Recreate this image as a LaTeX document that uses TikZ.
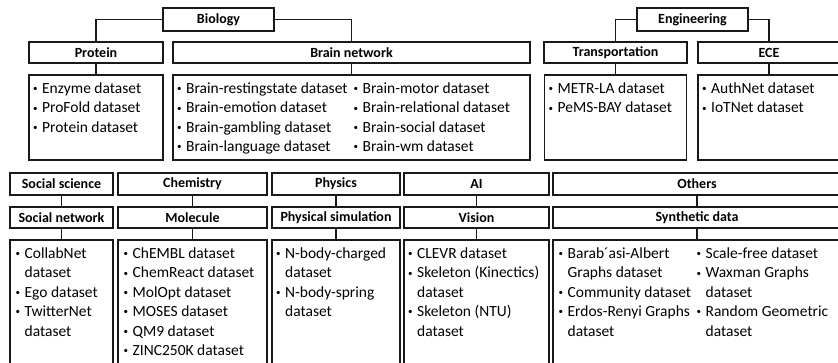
\documentclass[tikz,border=0pt]{standalone}
\usepackage{fontspec}
\setmainfont{Carlito}
\newcommand{\bul}{\makebox[10pt][l]{\hspace{1pt}\raisebox{1.8pt}{\fontsize{9}{9}\selectfont•}}}
\newcommand{\cont}{\hspace*{10pt}}

\begin{document}
\begin{tikzpicture}[x=1pt, y=-1pt,
    cat/.style={draw=black!90, line width=1.1pt, inner sep=0pt, font=\bfseries\fontsize{14}{16}\selectfont},
    body/.style={draw=black!90, line width=1.1pt, inner sep=0pt},
    lst/.style={anchor=north west, align=left, inner sep=0pt, font=\fontsize{15.5}{19.4}\selectfont},
    link/.style={draw=black!90, line width=1.1pt}]
    \useasboundingbox (0,0) rectangle (838,362);
    \clip (0,0) rectangle (838,362);

    \node[cat, minimum width=111, minimum height=23] (bio) at (218.5,19.5) {Biology};
    \node[cat, minimum width=111, minimum height=23] (eng) at (692.5,19.5) {Engineering};

    \node[cat, minimum width=134, minimum height=21] (prot) at (96,52.5) {Protein};
    \node[cat, minimum width=357, minimum height=21] (brain) at (351.5,52.5) {Brain network};
    \node[cat, minimum width=143, minimum height=21] (trans) at (615.5,52.5) {Transportation};
    \node[cat, minimum width=142, minimum height=21] (ece) at (769,52.5) {ECE};

    \node[body, minimum width=134, minimum height=85] (protC) at (96,117.5) {};
    \node[body, minimum width=357, minimum height=85] (brainC) at (351.5,117.5) {};
    \node[body, minimum width=142, minimum height=85] (transC) at (615.5,117.5) {};
    \node[body, minimum width=142, minimum height=85] (eceC) at (769,117.5) {};

    \draw[link] (bio.west) -| (prot.north);
    \draw[link] (bio.east) -| (brain.north);
    \draw[link] (eng.west) -| (trans.north);
    \draw[link] (eng.east) -| (ece.north);
    \draw[link] (prot.south) -- (protC.north);
    \draw[link] (brain.south) -- (brainC.north);
    \draw[link] (trans.south) -- (transC.north);
    \draw[link] (ece.south) -- (eceC.north);

    \node[lst] (protL) at ([shift={(3.5,8)}]protC.north west)
        {\bul Enzyme dataset\\\bul ProFold dataset\\\bul Protein dataset};
    \node[lst] (brainL1) at ([shift={(3.5,8)}]brainC.north west)
        {\bul Brain-restingstate dataset\\\bul Brain-emotion dataset\\\bul Brain-gambling dataset\\\bul Brain-language dataset};
    \node[lst] (brainL2) at ([shift={(180,8)}]brainC.north west)
        {\bul Brain-motor dataset\\\bul Brain-relational dataset\\\bul Brain-social dataset\\\bul Brain-wm dataset};
    \node[lst] (transL) at ([shift={(3.5,8)}]transC.north west)
        {\bul METR-LA dataset\\\bul PeMS-BAY dataset};
    \node[lst] (eceL) at ([shift={(3.5,8)}]eceC.north west)
        {\bul AuthNet dataset\\\bul IoTNet dataset};

    \node[cat, minimum width=103, minimum height=22] (soc) at (61.5,184) {Social science};
    \node[cat, minimum width=149, minimum height=22] (chem) at (192.5,184) {Chemistry};
    \node[cat, minimum width=128, minimum height=22] (phys) at (336,184) {Physics};
    \node[cat, minimum width=145, minimum height=22] (ai) at (476.5,184) {AI};
    \node[cat, minimum width=288, minimum height=22] (oth) at (697,184) {Others};

    \node[cat, minimum width=103, minimum height=21] (socnet) at (61.5,217.5) {Social network};
    \node[cat, minimum width=149, minimum height=21] (mol) at (192.5,217.5) {Molecule};
    \node[cat, minimum width=128, minimum height=21] (sim) at (336,217.5) {Physical simulation};
    \node[cat, minimum width=145, minimum height=21] (vis) at (476.5,217.5) {Vision};
    \node[cat, minimum width=288, minimum height=21] (syn) at (697,217.5) {Synthetic data};

    \node[body, minimum width=103, minimum height=140] (socC) at (61.5,310) {};
    \node[body, minimum width=149, minimum height=140] (molC) at (192.5,310) {};
    \node[body, minimum width=128, minimum height=140] (simC) at (336,310) {};
    \node[body, minimum width=145, minimum height=140] (visC) at (476.5,310) {};
    \node[body, minimum width=288, minimum height=140] (synC) at (697,310) {};

    \draw[link] (soc.south) -- (socnet.north);
    \draw[link] (chem.south) -- (mol.north);
    \draw[link] (phys.south) -- (sim.north);
    \draw[link] (ai.south) -- (vis.north);
    \draw[link] (oth.south) -- (syn.north);
    \draw[link] (socnet.south) -- (socC.north);
    \draw[link] (mol.south) -- (molC.north);
    \draw[link] (sim.south) -- (simC.north);
    \draw[link] (vis.south) -- (visC.north);
    \draw[link] (syn.south) -- (synC.north);

    \node[lst] (socL) at ([shift={(5,8)}]socC.north west)
        {\bul CollabNet\\\cont dataset\\\bul Ego dataset\\\bul TwitterNet\\\cont dataset};
    \node[lst] (molL) at ([shift={(5,8)}]molC.north west)
        {\bul ChEMBL dataset\\\bul ChemReact dataset\\\bul MolOpt dataset\\\bul MOSES dataset\\\bul QM9 dataset\\\bul ZINC250K dataset};
    \node[lst] (simL) at ([shift={(3.5,8)}]simC.north west)
        {\bul N-body-charged\\\cont dataset\\\bul N-body-spring\\\cont dataset};
    \node[lst] (visL) at ([shift={(3.5,8)}]visC.north west)
        {\bul CLEVR dataset\\\bul Skeleton (Kinectics)\\\cont dataset\\\bul Skeleton (NTU)\\\cont dataset};
    \node[lst] (synL1) at ([shift={(5,8)}]synC.north west)
        {\bul Barab´asi-Albert\\\cont Graphs dataset\\\bul Community dataset\\\bul Erdos-Renyi Graphs\\\cont dataset};
    \node[lst] (synL2) at ([shift={(143,8)}]synC.north west)
        {\bul Scale-free dataset\\\bul Waxman Graphs\\\cont dataset\\\bul Random Geometric\\\cont dataset};
\end{tikzpicture}
\end{document}
